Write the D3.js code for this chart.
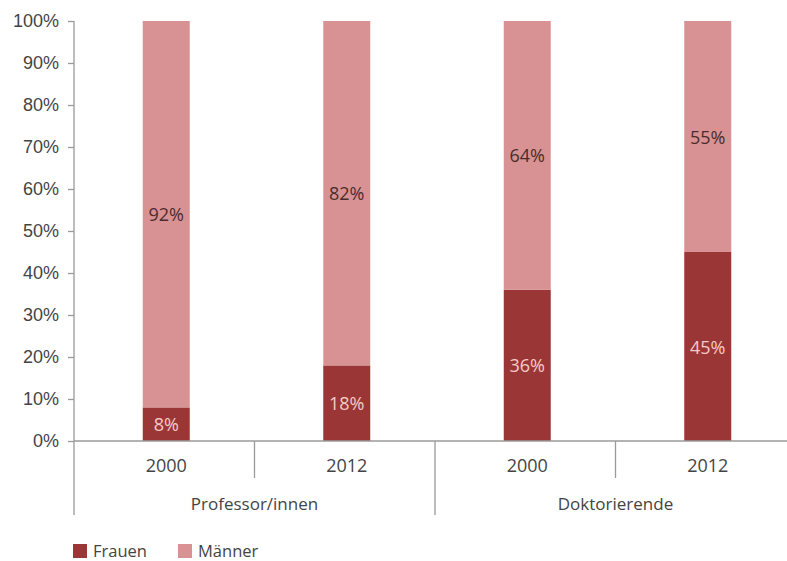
<!DOCTYPE html>
<html>
<head>
    <meta charset="utf-8">
    <title>Frauen und Männer</title>
    <script src="https://d3js.org/d3.v7.min.js"></script>
    <style>
        body { margin: 0; background: #fff; }
        svg { font-family: "Open Sans", "Noto Sans", sans-serif; }
        .axis path, .axis line { stroke: #9a9a9a; stroke-width: 1.3; fill: none; }
        .axis text { fill: #444; font-size: 18px; }
        .label { font-size: 18px; text-anchor: middle; dominant-baseline: central; }
    </style>
</head>
<body>
<svg width="787" height="561"></svg>
<script>
    // data
    var groups = ["Professor/innen", "Professor/innen", "Doktorierende", "Doktorierende"];
    var years = ["2000", "2012", "2000", "2012"];
    var frauen = [8, 18, 36, 45];
    var maenner = [92, 82, 64, 55];
    var series = ["Frauen", "Männer"];
    var yTicks = [0, 10, 20, 30, 40, 50, 60, 70, 80, 90, 100];

    var colors = {"Frauen": "#9b3636", "Männer": "#d99293"};
    var textColors = {"Frauen": "#f5cbc6", "Männer": "#4a2c2c"};

    var svg = d3.select("svg"),
        x0 = 74, x1 = 796,
        yTop = 21, yBottom = 441;

    var keys = years.map(function(d, i) { return i; });
    var x = d3.scaleBand().domain(keys).range([x0, x1]).paddingInner(0).paddingOuter(0);
    var y = d3.scaleLinear().domain([0, 100]).range([yBottom, yTop]);
    var barW = 47, barShift = 2;

    var rows = keys.map(function(i) {
        return {i: i, Frauen: frauen[i], "Männer": maenner[i]};
    });
    var stacked = d3.stack().keys(series)(rows);

    // y axis
    var yAxis = svg.append("g")
        .attr("class", "axis")
        .attr("transform", "translate(" + x0 + ",0)")
        .call(d3.axisLeft(y).tickValues(yTicks).tickSize(6).tickPadding(9)
            .tickFormat(function(d) { return d + "%"; }));
    yAxis.select(".domain").remove();
    svg.append("line")
        .attr("x1", x0).attr("x2", x0)
        .attr("y1", yTop).attr("y2", 515)
        .attr("stroke", "#9a9a9a").attr("stroke-width", 1.3);

    // bars
    stacked.forEach(function(layer) {
        svg.append("g").selectAll("rect")
            .data(layer)
            .enter().append("rect")
            .attr("x", function(d) { return x(d.data.i) + x.bandwidth() / 2 - barW / 2 + barShift; })
            .attr("y", function(d) { return y(d[1]); })
            .attr("width", barW)
            .attr("height", function(d) { return y(d[0]) - y(d[1]); })
            .attr("fill", colors[layer.key]);

        svg.append("g").selectAll("text")
            .data(layer)
            .enter().append("text")
            .attr("class", "label")
            .attr("x", function(d) { return x(d.data.i) + x.bandwidth() / 2 + barShift; })
            .attr("y", function(d) { return y((d[0] + d[1]) / 2); })
            .attr("fill", textColors[layer.key])
            .text(function(d) { return (d[1] - d[0]) + "%"; });
    });

    // x axis
    svg.append("line")
        .attr("x1", x0).attr("x2", 787)
        .attr("y1", yBottom).attr("y2", yBottom)
        .attr("stroke", "#9a9a9a").attr("stroke-width", 1.3);

    keys.forEach(function(i) {
        var bx = x(i) + x.bandwidth();
        var groupEnd = i === keys.length - 1 || groups[i] !== groups[i + 1];
        svg.append("line")
            .attr("x1", bx).attr("x2", bx)
            .attr("y1", yBottom).attr("y2", groupEnd ? 515 : 478)
            .attr("stroke", "#9a9a9a").attr("stroke-width", 1.3);
        svg.append("text")
            .attr("x", x(i) + x.bandwidth() / 2 + barShift)
            .attr("y", 465)
            .attr("text-anchor", "middle")
            .attr("dominant-baseline", "central")
            .attr("fill", "#444")
            .style("font-size", "18px")
            .text(years[i]);
    });

    var groupNames = Array.from(new Set(groups));
    groupNames.forEach(function(g) {
        var idx = keys.filter(function(i) { return groups[i] === g; });
        var cx = (x(idx[0]) + x(idx[idx.length - 1]) + x.bandwidth()) / 2;
        svg.append("text")
            .attr("x", cx)
            .attr("y", 503)
            .attr("text-anchor", "middle")
            .attr("dominant-baseline", "central")
            .attr("fill", "#444")
            .style("font-size", "17px")
            .text(g);
    });

    // legend
    var legendX = [73, 178];
    series.forEach(function(s, i) {
        var lg = svg.append("g").attr("transform", "translate(" + legendX[i] + ",544)");
        lg.append("rect").attr("width", 14).attr("height", 14).attr("fill", colors[s]);
        lg.append("text")
            .attr("x", 20).attr("y", 6)
            .attr("dominant-baseline", "central")
            .attr("fill", "#444")
            .style("font-size", "16.5px")
            .text(s);
    });
</script>
</body>
</html>
